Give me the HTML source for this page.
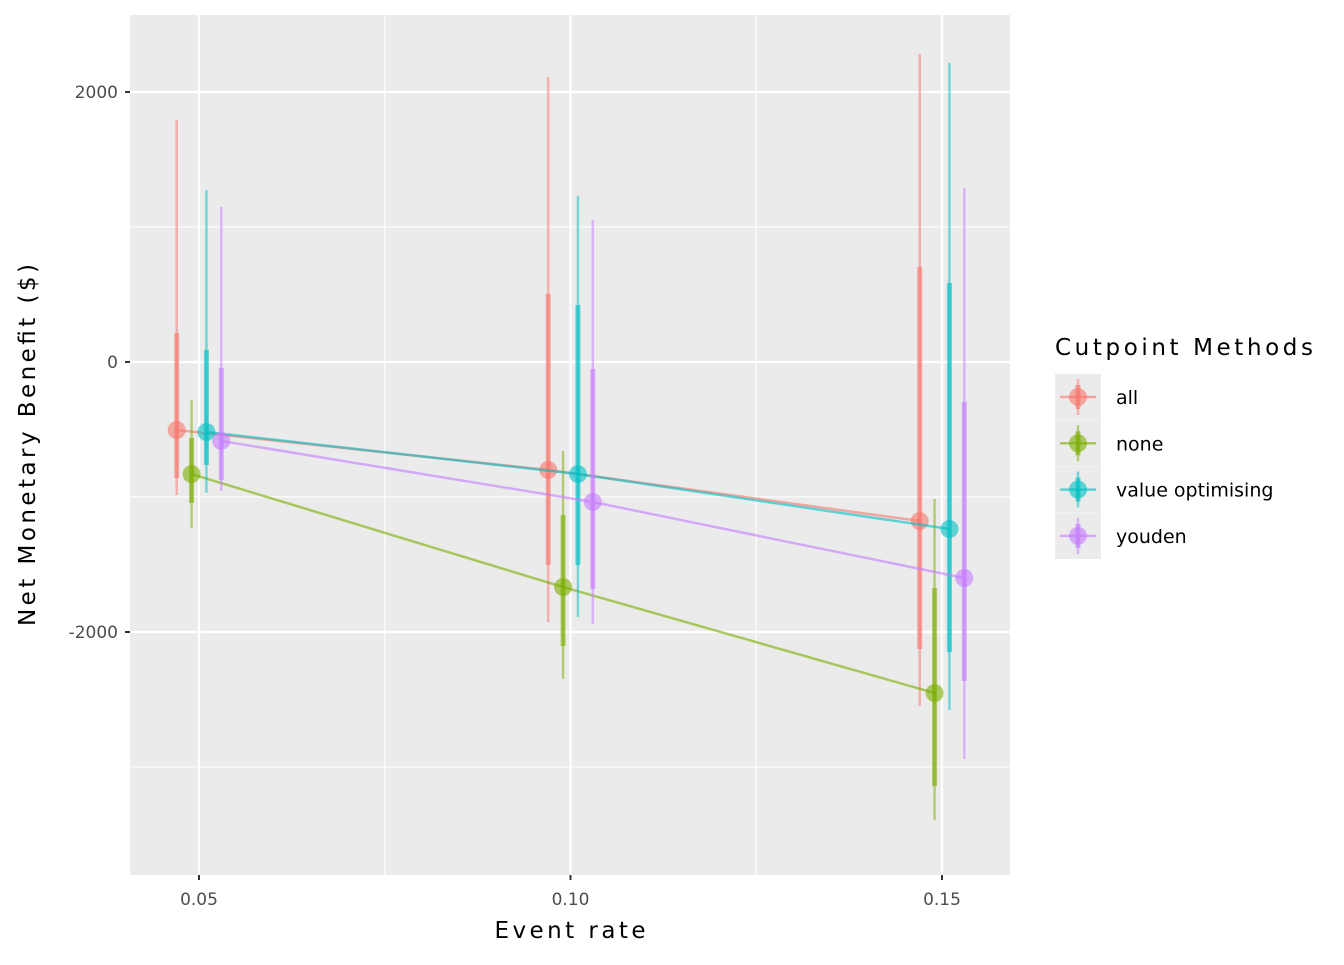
<!DOCTYPE html>
<html><head><meta charset="utf-8"><style>
html,body{margin:0;padding:0;background:#fff;}
svg text{font-family:"DejaVu Sans","Liberation Sans",sans-serif;}
</style></head><body>
<svg id="chart" width="1344" height="960" xmlns="http://www.w3.org/2000/svg">
<rect x="0" y="0" width="1344" height="960" fill="#fff"/>
<rect x="130" y="15" width="880" height="860" fill="#ebebeb"/>
<g id="grid"></g>
<g id="marks"></g>
<g id="axes"></g>
<text x="570" y="938" font-size="23" text-anchor="middle" fill="#000" textLength="151">Event rate</text>
<text transform="translate(35,445) rotate(-90)" font-size="23" text-anchor="middle" fill="#000" textLength="362">Net Monetary Benefit ($)</text>
<g id="legend">
<text x="1055" y="355" font-size="23" fill="#000" textLength="258">Cutpoint Methods</text>
</g>
</svg>
<script>
const rates = [0.05, 0.10, 0.15];
const methods = ["all", "none", "value optimising", "youden"];
const colors = ["#F8766D", "#7CAE00", "#00BFC4", "#C77CFF"];
const yTicks = [2000, 0, -2000];
const xTicks = [0.05, 0.10, 0.15];
const xTickLabels = ["0.05", "0.10", "0.15"];
const ptAll = [-504, -800, -1178];
const ptNone = [-830, -1667, -2452];
const ptValue = [-519, -830, -1237];
const ptYouden = [-585, -1037, -1600];
const hi95All = [1793, 2111, 2281], lo95All = [-985, -1926, -2548];
const hi95None = [-281, -659, -1015], lo95None = [-1230, -2348, -3393];
const hi95Value = [1274, 1230, 2215], lo95Value = [-970, -1889, -2578];
const hi95Youden = [1148, 1052, 1289], lo95Youden = [-956, -1941, -2941];
const hi50All = [215, 504, 704], lo50All = [-859, -1504, -2126];
const hi50None = [-563, -1133, -1674], lo50None = [-1044, -2104, -3141];
const hi50Value = [89, 422, 585], lo50Value = [-763, -1504, -2148];
const hi50Youden = [-44, -52, -296], lo50Youden = [-874, -1681, -2363];

const pts = [ptAll, ptNone, ptValue, ptYouden];
const hi95 = [hi95All, hi95None, hi95Value, hi95Youden];
const lo95 = [lo95All, lo95None, lo95Value, lo95Youden];
const hi50 = [hi50All, hi50None, hi50Value, hi50Youden];
const lo50 = [lo50All, lo50None, lo50Value, lo50Youden];
const dodge = [-0.003, -0.001, 0.001, 0.003];

const X0 = 130, X1 = 1010, Y0 = 15, Y1 = 875;
const xMin = 0.05 - 69/7430, xMax = 0.15 + 68/7430;
const yMax = 2570, yMin = -3800;
const xs = v => X0 + (v - xMin) / (xMax - xMin) * (X1 - X0);
const ys = v => Y0 + (yMax - v) / (yMax - yMin) * (Y1 - Y0);
const NS = "http://www.w3.org/2000/svg";
function mk(tag, attrs, parent){ const e = document.createElementNS(NS, tag); for (const k in attrs) e.setAttribute(k, attrs[k]); parent.appendChild(e); return e; }

const grid = document.getElementById('grid');
[3000,1000,-1000,-3000].forEach(v => { if (v<yMax && v>yMin){ const l = mk('line',{x1:X0,x2:X1,y1:ys(v),y2:ys(v),stroke:'#fff','stroke-width':1.1},grid);

 }});
[0.075,0.125].forEach(v => { const l = mk('line',{x1:xs(v),x2:xs(v),y1:Y0,y2:Y1,stroke:'#fff','stroke-width':1.1},grid);

 });
yTicks.forEach(v => { const l = mk('line',{x1:X0,x2:X1,y1:ys(v),y2:ys(v),stroke:'#fff','stroke-width':2.2},grid);

 });
xTicks.forEach(v => { const l = mk('line',{x1:xs(v),x2:xs(v),y1:Y0,y2:Y1,stroke:'#fff','stroke-width':2.2},grid);

 });

const axes = document.getElementById('axes');
yTicks.forEach(v => {
  const t = mk('line',{x1:X0-5,x2:X0,y1:ys(v),y2:ys(v),stroke:'#333','stroke-width':2},axes);
  
  
  const tx = mk('text',{x:X0-12,y:ys(v)+6,'font-size':17,'text-anchor':'end',fill:'#4d4d4d'},axes);
  
  
  tx.textContent = String(v);
});
xTicks.forEach((v,i) => {
  const t = mk('line',{x1:xs(v),x2:xs(v),y1:Y1,y2:Y1+5,stroke:'#333','stroke-width':2},axes);
  
  
  const tx = mk('text',{x:xs(v),y:Y1+30,'font-size':17,'text-anchor':'middle',fill:'#4d4d4d'},axes);
  
  
  tx.textContent = xTickLabels[i];
});

const marks = document.getElementById('marks');
methods.forEach((m, si) => {
  const g = mk('g',{},marks);
  
  
  const c = colors[si];
  const d = rates.map((r,i) => (i?'L':'M') + xs(r+dodge[si]) + ',' + ys(pts[si][i])).join(' ');
  const p = mk('path',{d:d,stroke:c,'stroke-width':2.5,fill:'none',opacity:0.6},g);
  
  
  rates.forEach((r,i) => {
    const x = xs(r+dodge[si]);
    const a = mk('line',{x1:x,x2:x,y1:ys(hi95[si][i]),y2:ys(lo95[si][i]),stroke:c,'stroke-width':2.5,opacity:0.5},g);
    
    
    const b = mk('line',{x1:x,x2:x,y1:ys(hi50[si][i]),y2:ys(lo50[si][i]),stroke:c,'stroke-width':5,opacity:0.6},g);
    
    
    const pt = mk('circle',{cx:x,cy:ys(pts[si][i]),r:9,fill:c,opacity:0.6},g);
    
    
  });
});

const legend = document.getElementById('legend');
methods.forEach((m, si) => {
  const cy = 397 + si*46.3;
  const g = mk('g',{},legend);
  
  
  mk('rect',{x:1055,y:cy-23,width:46,height:46,fill:'#ebebeb'},g);
  mk('line',{x1:1060,x2:1096,y1:cy,y2:cy,stroke:colors[si],'stroke-width':2.5,opacity:0.6},g);
  mk('line',{x1:1078,x2:1078,y1:cy-18,y2:cy+18,stroke:colors[si],'stroke-width':2.5,opacity:0.5},g);
  mk('line',{x1:1078,x2:1078,y1:cy-12,y2:cy+12,stroke:colors[si],'stroke-width':5,opacity:0.6},g);
  mk('circle',{cx:1078,cy:cy,r:9,fill:colors[si],opacity:0.6},g);
  const t = mk('text',{x:1116,y:cy+7,'font-size':19,fill:'#000'},g);
  
  
  t.textContent = m;
});
</script>
</body></html>
